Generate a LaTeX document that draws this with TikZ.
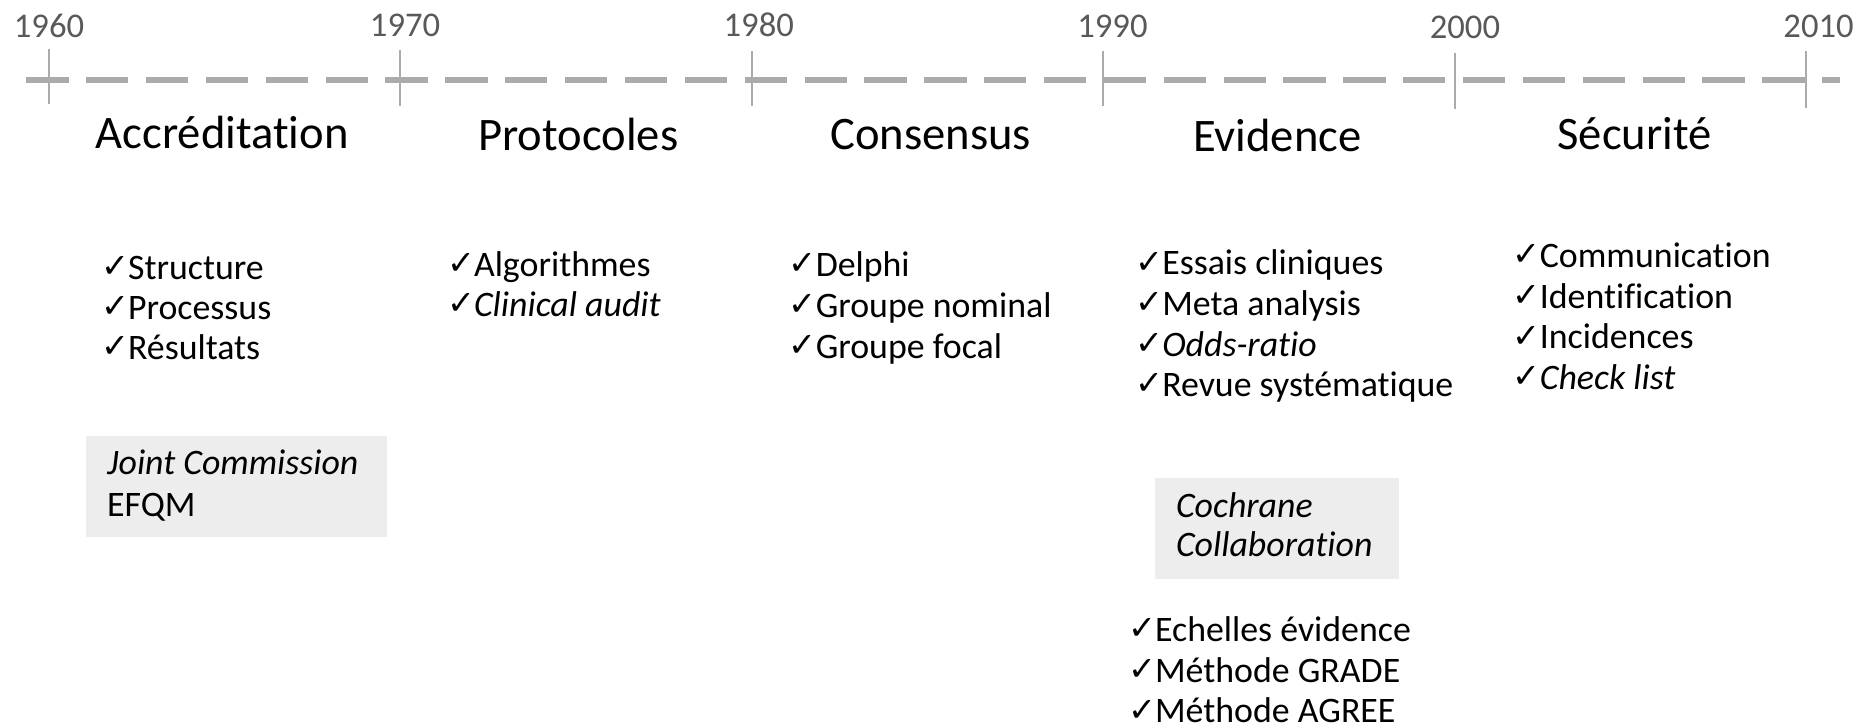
\documentclass[tikz,border=0pt]{standalone}
\usepackage{fontspec}
\setmainfont{Carlito}[Ligatures={NoCommon}]
\newfontfamily\chkfont{DejaVu Sans}
\definecolor{axisgray}{HTML}{ABABAB}
\definecolor{yeargray}{HTML}{595959}
\definecolor{boxgray}{HTML}{EDEDED}
\newcommand\chk{\makebox[22.5pt][l]{\chkfont\fontsize{28}{28}\selectfont\raisebox{1.5pt}{✓}}}
\begin{document}
\begin{tikzpicture}[x=1pt,y=-1pt,
  year/.style={anchor=base, text=yeargray, font=\fontsize{29}{29}\selectfont, inner sep=0},
  heading/.style={anchor=base, font=\fontsize{39}{39}\selectfont, inner sep=0},
  itm/.style={anchor=base west, font=\fontsize{30}{30}\selectfont, inner sep=0},
  tickline/.style={draw=axisgray, line width=1.6pt},
  axisline/.style={draw=axisgray, line width=4.5pt, dash pattern=on 35.4pt off 14.7pt},
  greybox/.style={fill=boxgray, draw=none, inner sep=0, anchor=north west}]
\useasboundingbox (0,0) rectangle (1560,607.6);
% axis
\coordinate (axL) at (22,67);
\coordinate (axR) at (1540,67);
\draw[axisline] (axL) -- (axR);
\foreach \yr/\lx/\yb/\ta/\tb [count=\i from 0] in
   {1960/41/31/41/87, 1970/339/30.5/42/88.5, 1980/635/30.5/43/89,
    1990/931/31/43/89, 2000/1226/32/44.6/91.5, 2010/1522/31.5/43/90}{
  \coordinate (tt\i) at ({41+294.1*\i},\ta);
  \coordinate (tb\i) at ({41+294.1*\i},\tb);
  \draw[tickline] (tt\i) -- (tb\i);
  \node[year] (yr\i) at (\lx,\yb) {\yr};
}
% headings
\node[heading] (hAcc) at (186,124) {Accréditation};
\node[heading] (hPro) at (484,126) {Protocoles};
\node[heading] (hCon) at (779,125) {Consensus};
\node[heading] (hEvi) at (1069,127) {Evidence};
\node[heading] (hSec) at (1368,125) {Sécurité};
% items
\foreach \t [count=\i] in {Structure,Processus,Résultats}
  \node[itm] (acc\i) at (84.5,{234+33.5*(\i-1)}) {\chk\t};
\foreach \t [count=\i] in {Algorithmes,{\textit{Clinical audit}}}
  \node[itm] (pro\i) at (374,{231+34*(\i-1)}) {\chk\t};
\foreach \t [count=\i] in {Delphi,Groupe nominal,Groupe focal}
  \node[itm] (con\i) at (660,{231+34.5*(\i-1)}) {\chk\t};
\foreach \t [count=\i] in {Essais cliniques,Meta analysis,{\textit{Odds-ratio}},Revue systématique}
  \node[itm] (evi\i) at (950,{230+34*(\i-1)}) {\chk\t};
\foreach \t [count=\i] in {Communication,Identification,Incidences,{\textit{Check list}}}
  \node[itm] (sec\i) at (1266,{224+34*(\i-1)}) {\chk\t};
% boxes
\node[greybox, minimum width=252pt, minimum height=84pt] (boxJC) at (72,365) {};
\node[itm] (jc1) at (89.5,397.5) {\textit{Joint Commission}};
\node[itm] (jc2) at (89.5,432) {EFQM};
\node[greybox, minimum width=204.5pt, minimum height=84pt] (boxCC) at (966.5,400) {};
\node[itm] (cc1) at (984,433.5) {\textit{Cochrane}};
\node[itm] (cc2) at (984,466) {\textit{Collaboration}};
% bottom evidence items
\foreach \t [count=\i] in {Echelles évidence,Méthode GRADE,Méthode AGREE}
  \node[itm] (evb\i) at (944,{537+34*(\i-1)}) {\chk\t};
\end{tikzpicture}
\end{document}
